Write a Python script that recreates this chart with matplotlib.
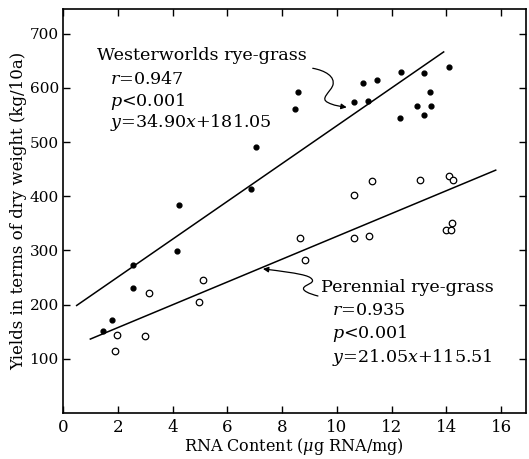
import numpy as np
import matplotlib
matplotlib.use('Agg')
import matplotlib.pyplot as plt
from matplotlib.path import Path
from matplotlib.patches import FancyArrowPatch

plt.rcParams['font.family'] = 'DejaVu Serif'
plt.rcParams['mathtext.fontset'] = 'dejavuserif'

# Westerworlds rye-grass (filled dots)
west_x = [1.45, 1.8, 2.54, 2.54, 4.15, 4.25, 6.87, 7.04, 8.47, 8.6, 10.62, 10.96,
          11.14, 11.45, 12.32, 12.36, 12.94, 13.18, 13.19, 13.4, 13.43, 14.1]
west_y = [152, 172, 231, 273, 299, 384, 413, 490, 561, 592, 574, 608,
          575, 615, 544, 629, 567, 627, 550, 593, 566, 638]

# Perennial rye-grass (open circles)
pere_x = [1.91, 1.98, 2.98, 3.13, 4.97, 5.1, 8.67, 8.84, 10.63, 10.63, 11.16,
          11.27, 13.05, 13.98, 14.1, 14.17, 14.2, 14.25]
pere_y = [115, 144, 142, 222, 205, 246, 323, 283, 323, 403, 327,
          429, 430, 338, 438, 338, 351, 430]

# regression lines
west_coef = (34.90, 181.05)
pere_coef = (21.05, 115.51)
west_range = (0.5, 13.9)
pere_range = (1.0, 15.8)

xticks = [0, 2, 4, 6, 8, 10, 12, 14, 16]
yticks = [100, 200, 300, 400, 500, 600, 700]

fig = plt.figure(figsize=(5.29, 4.59), dpi=100)
ax = fig.add_axes([0.119, 0.10, 0.875, 0.88])

ax.scatter(west_x, west_y, s=12, c='black', zorder=3)
ax.scatter(pere_x, pere_y, s=22, facecolors='white', edgecolors='black',
           linewidths=0.9, zorder=3)

xs = np.linspace(*west_range, 2)
ax.plot(xs, west_coef[0] * xs + west_coef[1], color='black', lw=1.1)
xs = np.linspace(*pere_range, 2)
ax.plot(xs, pere_coef[0] * xs + pere_coef[1], color='black', lw=1.1)

# labels
fs = 12.6
ax.text(1.24, 660, 'Westerworlds rye-grass', fontsize=fs, va='center')
ax.text(1.72, 616, r'$r$=0.947', fontsize=fs, va='center')
ax.text(1.72, 575, r'$p$<0.001', fontsize=fs, va='center')
ax.text(1.72, 536, r'$y$=34.90$x$+181.05', fontsize=fs, va='center')

ax.text(9.42, 231, 'Perennial rye-grass', fontsize=fs, va='center')
ax.text(9.82, 190, r'$r$=0.935', fontsize=fs, va='center')
ax.text(9.82, 146, r'$p$<0.001', fontsize=fs, va='center')
ax.text(9.82, 103, r'$y$=21.05$x$+115.51', fontsize=fs, va='center')

# curly arrows
west_path = Path([(9.12, 636), (9.56, 632), (9.96, 621), (9.85, 604),
                  (9.74, 591), (9.38, 580), (9.67, 573),
                  (9.89, 567), (10.11, 566), (10.36, 564)],
                 [Path.MOVETO] + [Path.CURVE4] * 9)
ax.add_patch(FancyArrowPatch(path=west_path, arrowstyle='-|>', mutation_scale=8,
                             color='black', lw=0.9))
pere_path = Path([(9.31, 216), (9.0, 220), (8.7, 226), (8.80, 232),
                  (8.9, 238), (9.2, 240), (9.09, 247),
                  (9.0, 254), (8.6, 258), (7.3, 266)],
                 [Path.MOVETO] + [Path.CURVE4] * 9)
ax.add_patch(FancyArrowPatch(path=pere_path, arrowstyle='-|>', mutation_scale=8,
                             color='black', lw=0.9))

ax.set_xlim(0, 16.9)
ax.set_ylim(0, 745)
ax.set_xticks(xticks)
ax.set_yticks(yticks)
ax.tick_params(direction='in', length=5, width=1, top=True, right=True,
               labelsize=11, pad=3)
ax.tick_params(axis='x', labelsize=12, pad=4)
for s in ax.spines.values():
    s.set_linewidth(1.2)

ax.set_xlabel(r'RNA Content ($\mu$g RNA/mg)', fontsize=11.5, labelpad=0)
ax.set_ylabel('Yields in terms of dry weight (kg/10a)', fontsize=12, labelpad=2)

fig.savefig('out.png', dpi=100)
